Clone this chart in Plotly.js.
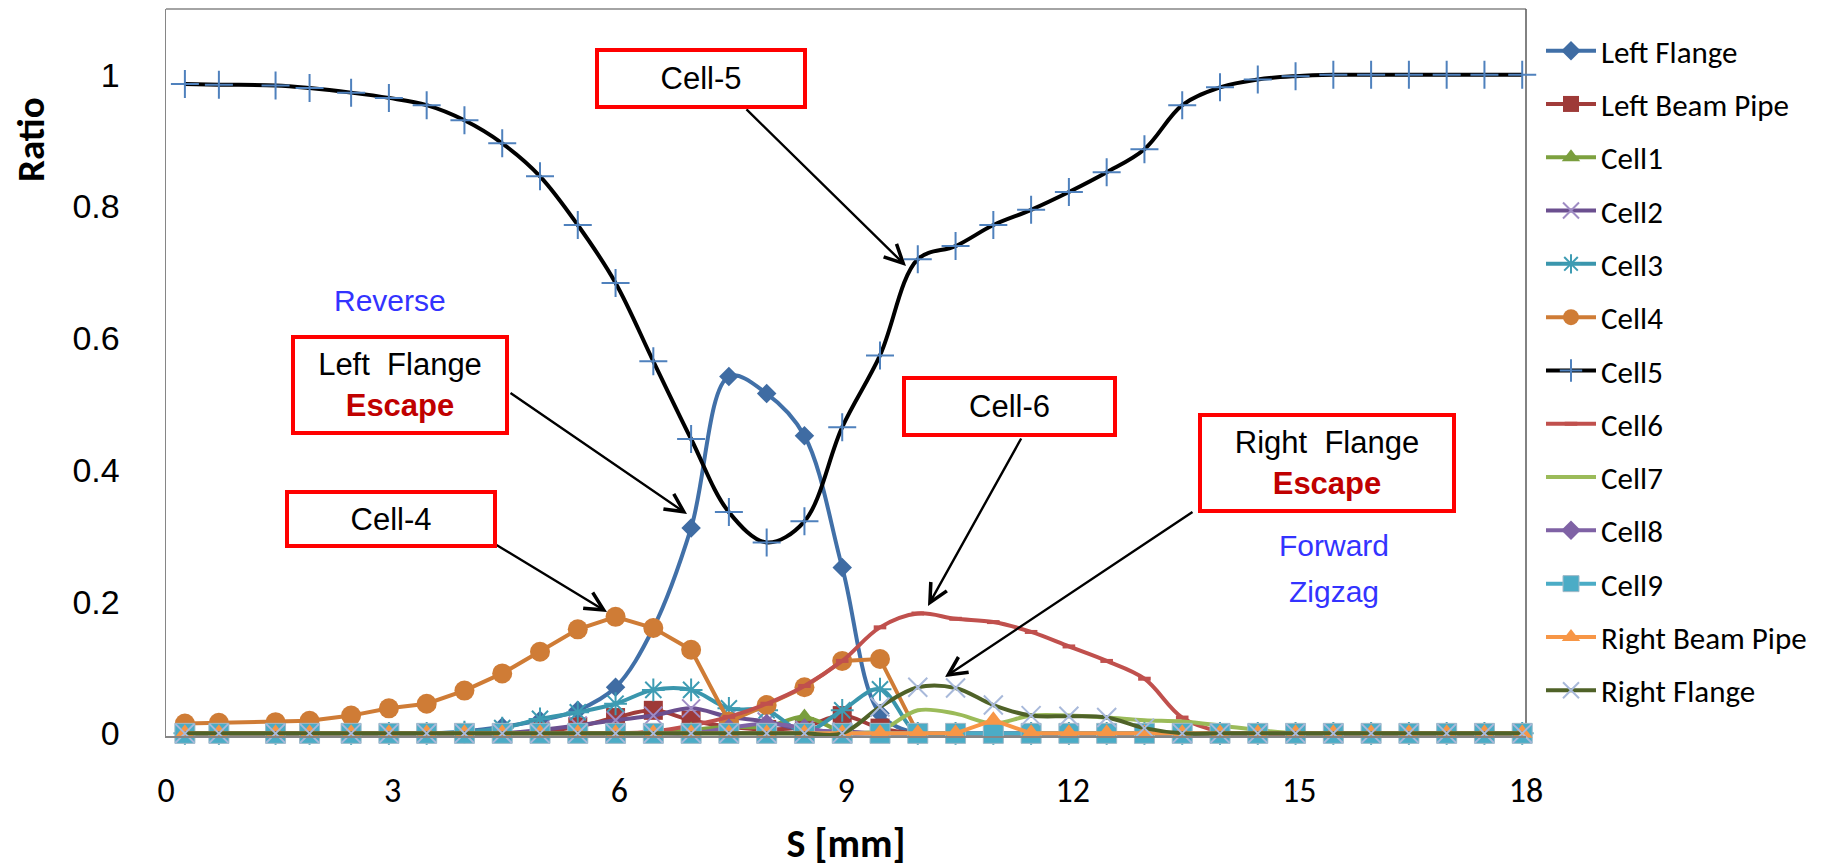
<!DOCTYPE html>
<html><head><meta charset="utf-8">
<script src="https://cdn.plot.ly/plotly-3.0.1.min.js"></script>
<style>html,body{margin:0;padding:0;background:#fff}#chart{width:1825px;height:868px}</style>
</head><body><div id="chart"></div>
<script>
// ---------- data ----------
const sPositions = [0.25,0.7,1.45,1.9,2.45,2.95,3.45,3.95,4.45,4.95,5.45,5.95,6.45,6.95,7.45,7.95,8.45,8.95,9.45,9.95,10.45,10.95,11.45,11.95,12.45,12.95,13.45,13.95,14.45,14.95,15.45,15.95,16.45,16.95,17.45,17.95];
const leftFlange    = [0,0,0,0,0,0,0,0.003,0.01,0.02,0.035,0.07,0.16,0.312,0.542,0.516,0.452,0.252,0.03,0,0,0,0,0,0,0,0,0,0,0,0,0,0,0,0,0];
const leftBeamPipe  = [0,0,0,0,0,0,0,0,0,0.003,0.01,0.024,0.035,0.02,0.01,0.006,0.01,0.027,0.008,0,0,0,0,0,0,0,0,0,0,0,0,0,0,0,0,0];
const cell1         = [0,0,0,0,0,0,0,0,0,0,0,0,0,0.005,0.01,0.01,0.025,0.003,0,0,0,0,0,0,0,0,0,0,0,0,0,0,0,0,0,0];
const cell2         = [0,0,0,0,0,0,0,0,0,0.005,0.012,0.02,0.027,0.038,0.025,0.018,0.005,0.003,0,0,0,0,0,0,0,0,0,0,0,0,0,0,0,0,0,0];
const cell3         = [0,0,0,0,0,0,0,0.002,0.008,0.022,0.032,0.045,0.066,0.066,0.038,0.035,0.003,0.035,0.067,0,0,0,0,0,0,0,0,0,0,0,0,0,0,0,0,0];
const cell4         = [0.015,0.016,0.017,0.019,0.027,0.038,0.045,0.065,0.091,0.124,0.158,0.177,0.16,0.127,0.018,0.043,0.07,0.11,0.113,0,0,0,0,0,0,0,0,0,0,0,0,0,0,0,0,0];
const cell5         = [0.986,0.985,0.984,0.98,0.973,0.965,0.954,0.931,0.896,0.846,0.772,0.684,0.565,0.447,0.336,0.29,0.322,0.465,0.574,0.72,0.74,0.772,0.795,0.822,0.852,0.887,0.954,0.981,0.993,0.998,1,1,1,1,1,1];
const cell6         = [0,0,0,0,0,0,0,0,0,0,0,0,0.003,0.012,0.025,0.045,0.072,0.11,0.161,0.182,0.174,0.169,0.154,0.132,0.11,0.083,0.024,0.003,0,0,0,0,0,0,0,0];
const cell7         = [0,0,0,0,0,0,0,0,0,0,0,0,0,0,0,0,0,0,0.004,0.035,0.03,0.015,0.027,0.027,0.024,0.02,0.018,0.012,0.005,0,0,0,0,0,0,0];
const cell8         = [0,0,0,0,0,0,0,0,0,0,0,0,0,0,0.008,0.015,0.008,0,0,0,0,0,0,0,0,0,0,0,0,0,0,0,0,0,0,0];
const cell9         = [0,0,0,0,0,0,0,0,0,0,0,0,0,0,0,0,0,0,0,0,0,0,0,0,0,0,0,0,0,0,0,0,0,0,0,0];
const rightBeamPipe = [0,0,0,0,0,0,0,0,0,0,0,0,0,0,0,0,0,0,0,0,0,0.02,0,0,0,0,0,0,0,0,0,0,0,0,0,0];
const rightFlange   = [0,0,0,0,0,0,0,0,0,0,0,0,0,0,0,0,0,0,0.04,0.07,0.069,0.043,0.027,0.026,0.024,0.008,0,0,0,0,0,0,0,0,0,0];
const seriesNames = ['Left Flange','Left Beam Pipe','Cell1','Cell2','Cell3','Cell4','Cell5','Cell6','Cell7','Cell8','Cell9','Right Beam Pipe','Right Flange'];
const seriesValues = [leftFlange,leftBeamPipe,cell1,cell2,cell3,cell4,cell5,cell6,cell7,cell8,cell9,rightBeamPipe,rightFlange];
const xTickVals = [0,3,6,9,12,15,18];
const yTickVals = [0,0.2,0.4,0.6,0.8,1];

// ---------- styles ----------
const styles = [
  {line:'#4170A8', sym:'diamond', size:15, mc:'#3F6CA3', ml:0, shape:'spline'},
  {line:'#A13C3A', sym:'square', size:19, mc:'#9E3A38', ml:0, shape:'spline'},
  {line:'#7DA13F', sym:'triangle-up', size:17, mc:'#7A9E3E', ml:0, shape:'spline'},
  {line:'#6B4F8F', sym:'x-thin-open', size:18, mc:'#9F8CC4', ml:2, shape:'spline'},
  {line:'#3A96AD', sym:'asterisk-open', size:19, mc:'#3E9CB3', ml:2, shape:'spline'},
  {line:'#CF7C36', sym:'circle', size:20, mc:'#CF7C36', ml:0, shape:'linear'},
  {line:'#000000', sym:'cross-thin-open', size:20, mc:'#4F81BD', ml:2, shape:'spline'},
  {line:'#C0504D', sym:'line-ew-open', size:9, mc:'#C0504D', ml:4, shape:'spline'},
  {line:'#9BBB59', sym:'circle', size:1, mc:'#9BBB59', ml:0, shape:'spline', nomarker:true},
  {line:'#7F62A5', sym:'diamond', size:15, mc:'#7F62A5', ml:0, shape:'spline'},
  {line:'#4BACC6', sym:'square', size:20, mc:'#4BACC6', ml:1, mlc:'#9FB9C8', shape:'spline'},
  {line:'#F79646', sym:'triangle-up', size:18, mc:'#F79646', ml:0, shape:'linear'},
  {line:'#4F6228', sym:'x-thin-open', size:19, mc:'#A8B9DA', ml:2, shape:'spline'}
];

const traces = seriesNames.map((name,i)=>{
  const st = styles[i];
  return {
    type:'scatter', x:sPositions, y:seriesValues[i], name:name,
    legendgroup:'g'+i,
    mode: st.nomarker ? 'lines' : 'lines+markers',
    cliponaxis:false,
    line:{color:st.line, width:4, shape:st.shape, smoothing:1},
    marker:{symbol:st.sym, size:st.size, color:st.mc,
            line:{width:st.ml, color: st.mlc || st.mc}}
  };
});

// ---------- layout helpers (pixel -> paper) ----------
const L=166, PW=1360, T=9, PH=727;
const px = p => (p-L)/PW;
const py = p => (T+PH-p)/PH;

const boxFont = {family:'"Liberation Sans", Arial, sans-serif', size:31, color:'#000'};
function box(cx, cy, w, h, text){
  return {xref:'paper', yref:'paper', x:px(cx), y:py(cy), xanchor:'center', yanchor:'middle',
    text:text, showarrow:false, font:boxFont, bgcolor:'#fff', bordercolor:'#FF0000',
    borderwidth:4, borderpad:0, width:w-8, height:h-8, align:'center', valign:'middle'};
}
function arrow(tx, ty, hx, hy){
  return {xref:'paper', yref:'paper', x:px(hx), y:py(hy), ax:tx-hx, ay:ty-hy, text:'',
    showarrow:true, arrowhead:5, arrowsize:1.5, arrowwidth:2.4, arrowcolor:'#000',
    standoff:0, startstandoff:0};
}
function label(cx, cy, text, color){
  return {xref:'paper', yref:'paper', x:px(cx), y:py(cy), xanchor:'center', yanchor:'middle',
    text:text, showarrow:false,
    font:{family:'"Liberation Sans", Arial, sans-serif', size:30, color:color}};
}
const esc = '<b><span style="color:#C00000">Escape</span></b>';
const annotations = [
  arrow(745,108, 906,266),
  arrow(509,392, 687,514),
  arrow(495,544, 607,612),
  arrow(1022,437, 928,606),
  arrow(1194,511, 945,677),
  box(701,78,212,61,'Cell-5'),
  box(400,385,218,100,'Left\u00a0 Flange<br>'+esc),
  box(391,519,212,58,'Cell-4'),
  box(1009,407,215,61,'Cell-6'),
  box(1327,463,258,100,'Right\u00a0 Flange<br>'+esc),
  label(390,300,'Reverse','#3333FF'),
  label(1334,545,'Forward','#3333FF'),
  label(1334,591,'Zigzag','#3333FF'),
  {xref:'paper', yref:'paper', x:px(30), y:py(140), xanchor:'center', yanchor:'middle', textangle:-90,
   text:'<b>Ratio</b>', showarrow:false, font:{family:'Carlito, Lato, sans-serif', size:39, color:'#000'}}
];

const calibri = 'Carlito, Lato, sans-serif';
const layout = {
  width:1825, height:868,
  margin:{l:L, r:1825-L-PW, t:T, b:868-T-PH, pad:0},
  paper_bgcolor:'#fff', plot_bgcolor:'#fff',
  showlegend:true,
  legend:{x:px(1541), xanchor:'left', y:py(24), yanchor:'top', font:{family:calibri, size:31, color:'#000'},
          bgcolor:'rgba(0,0,0,0)', itemwidth:50, tracegroupgap:10},
  xaxis:{range:[0,18], tickvals:xTickVals, showgrid:false, zeroline:false, showline:true,
         linecolor:'#868686', linewidth:1.5, ticks:'', ticklabelstandoff:24,
         tickfont:{family:calibri, size:34, color:'#000'},
         title:{text:'<b>S [mm]</b>', font:{family:calibri, size:40, color:'#000'}, standoff:64}},
  yaxis:{range:[-0.004,1.1], tickvals:yTickVals, showgrid:false, zeroline:false, showline:true,
         linecolor:'#868686', linewidth:1.5, ticks:'', ticklabelstandoff:38,
         tickfont:{family:'"Liberation Sans", Arial, sans-serif', size:34, color:'#000'}},
  shapes:[
    {type:'line', xref:'paper', yref:'paper', x0:0, x1:1, y0:1, y1:1, line:{color:'#868686', width:1.5}, layer:'below'},
    {type:'line', xref:'paper', yref:'paper', x0:1, x1:1, y0:0, y1:1, line:{color:'#595959', width:1.5}, layer:'below'}
  ],
  annotations:annotations
};
Plotly.newPlot('chart', traces, layout, {displayModeBar:false, staticPlot:true});
</script></body></html>
